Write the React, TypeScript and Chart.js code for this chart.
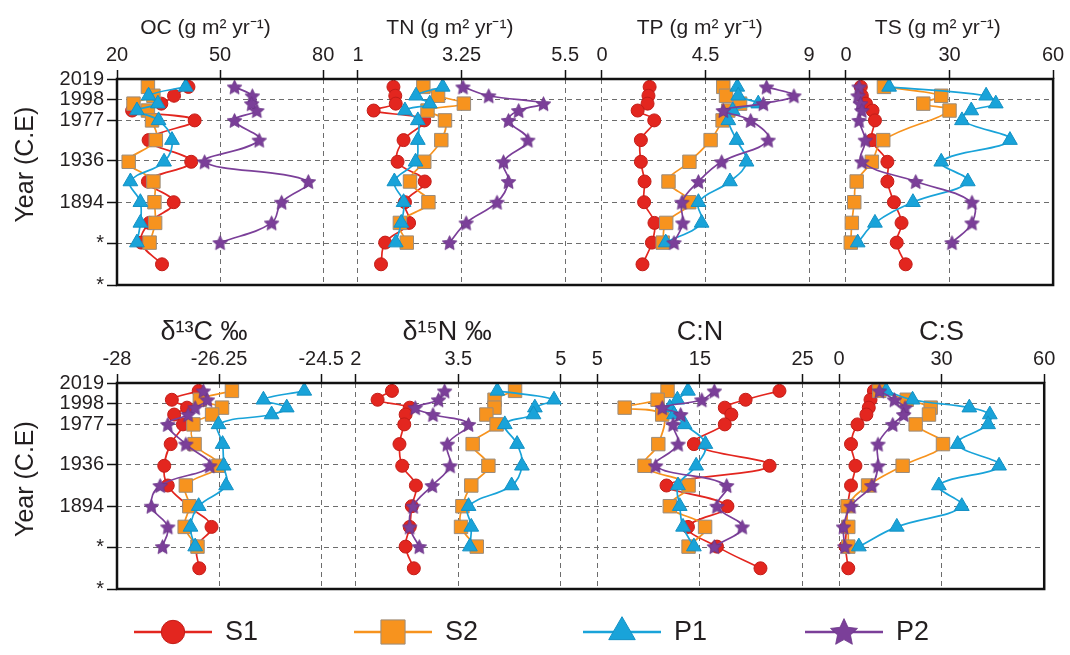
import React, { useEffect, useRef } from 'react';
import { Chart, registerables } from 'chart.js';

Chart.register(...registerables);

const FONT = '"Liberation Sans", Arial, Helvetica, sans-serif';
const TEXT = '#231f20';

// ---- y axis (sample years) ----
const Y_TICKS = [2019, 1998, 1977, 1936, 1894, 1852, 1810];
const Y_TICK_LABELS = ['2019', '1998', '1977', '1936', '1894', '*', '*'];
const S1_YEARS = [2011, 2002, 1994, 1987, 1977, 1957, 1935, 1915, 1894, 1873, 1853, 1831];
const YEARS = [2011, 2002, 1994, 1987, 1977, 1957, 1935, 1915, 1894, 1873, 1853];

// ---- x ticks ----
const OC_TICKS = [20, 50, 80];
const TN_TICKS = [1, 3.25, 5.5];
const TP_TICKS = [0, 4.5, 9];
const TS_TICKS = [0, 30, 60];
const C13_TICKS = [-28, -26.25, -24.5];
const N15_TICKS = [2, 3.5, 5];
const CN_TICKS = [5, 15, 25];
const CS_TICKS = [0, 30, 60];

// ---- OC ----
const OC_S1 = [40.8, 36.6, 32.9, 24.4, 42.6, 29.2, 41.6, 29.0, 36.5, 29.4, 27.1, 33.1];
const OC_S2 = [29.0, 30.6, 24.8, 29.0, 30.2, 31.3, 23.4, 30.6, 30.9, 31.1, 29.5];
const OC_P1 = [40.0, 29.2, 31.9, 25.8, 32.1, 36.0, 33.7, 23.9, 26.8, 26.8, 25.8];
const OC_P2 = [54.2, 59.4, 59.2, 60.7, 54.2, 61.4, 45.5, 75.7, 67.9, 65.0, 50.0];
// ---- TN ----
const TN_S1 = [1.77, 1.81, 1.82, 1.34, 2.44, 1.99, 1.86, 2.45, 2.02, 2.11, 1.59, 1.5];
const TN_S2 = [2.42, 2.74, 3.3, 2.51, 2.89, 2.81, 2.44, 2.13, 2.53, 1.91, 2.06];
const TN_P1 = [2.84, 2.26, 2.56, 2.02, 2.3, 2.3, 2.25, 1.79, 1.99, 1.94, 1.82];
const TN_P2 = [3.28, 3.84, 5.03, 4.49, 4.27, 4.69, 4.16, 4.27, 4.02, 3.35, 2.99];
// ---- TP ----
const TP_S1 = [2.07, 2.02, 1.98, 1.55, 2.27, 1.69, 1.69, 1.85, 1.83, 2.28, 2.17, 1.76];
const TP_S2 = [5.27, 5.39, 6.0, 5.49, 5.24, 4.72, 3.8, 2.89, 3.79, 2.79, 2.64];
const TP_P1 = [5.88, 5.92, 6.79, 5.68, 5.49, 5.85, 6.28, 5.56, 4.19, 4.33, 2.77];
const TP_P2 = [7.15, 8.34, 7.01, 5.27, 6.46, 7.22, 5.2, 4.19, 3.47, 3.51, 3.13];
// ---- TS ----
const TS_S1 = [4.3, 4.6, 5.8, 7.7, 8.4, 7.5, 12.0, 12.0, 13.9, 16.1, 14.7, 17.3];
const TS_S2 = [11.0, 27.6, 22.4, 30.0, null, 10.8, 7.5, 3.1, 2.4, 1.7, 1.4];
const TS_P1 = [12.5, 40.6, 43.4, 36.3, 33.6, 47.5, 27.6, 35.3, 19.4, 8.4, 3.4];
const TS_P2 = [3.8, 3.5, 4.2, 4.6, 3.8, 5.6, 4.6, 20.2, 36.5, 36.5, 30.7];
// ---- d13C ----
const C13_S1 = [-26.6, -27.06, -26.8, -27.02, -26.87, -27.08, -27.19, -27.13, -26.77, -26.38, -26.63, -26.59];
const C13_S2 = [-26.03, -26.58, -26.2, -26.37, -26.69, -26.67, -26.26, -26.82, -26.76, -26.84, -26.62];
const C13_P1 = [-24.79, -25.49, -25.09, -25.35, -26.26, -26.19, -26.17, -26.13, -26.6, -26.74, -26.66];
const C13_P2 = [-26.52, -26.45, -26.66, -26.78, -27.13, -26.82, -26.41, -27.26, -27.41, -27.13, -27.22];
// ---- d15N ----
const N15_S1 = [2.53, 2.32, 2.79, 2.73, 2.71, 2.64, 2.68, 2.88, 2.82, 2.79, 2.73, 2.85];
const N15_S2 = [4.33, 4.03, 4.03, 3.91, 4.06, 3.71, 3.94, 3.69, 3.56, 3.54, 3.77];
const N15_P1 = [4.07, 4.9, 4.62, 4.6, 4.18, 4.36, 4.43, 4.28, 3.65, 3.69, 3.67];
const N15_P2 = [3.3, 3.21, 2.87, 3.13, 3.65, 3.34, 3.38, 3.12, 2.84, 2.79, 2.93];
// ---- C:N ----
const CN_S1 = [22.75, 19.45, 17.42, 18.06, 17.42, 14.41, 21.79, 11.74, 17.68, 13.83, 16.66, 20.9];
const CN_S2 = [11.84, 10.87, 7.66, 11.32, null, 10.94, 9.59, 13.89, 12.06, 15.5, 13.89];
const CN_P1 = [13.83, 12.8, 12.06, 12.48, 13.51, 15.53, 14.63, 12.86, 13.03, 13.35, 14.41];
const CN_P2 = [16.4, 15.18, 11.32, 13.12, 12.38, 12.87, 10.68, 17.6, 16.66, 19.12, 16.4];
// ---- C:S ----
const CS_S1 = [10.2, 9.2, 8.7, 8.0, 5.4, 3.5, 4.8, 3.5, 2.5, 2.2, 1.9, 2.7];
const CS_S2 = [11.8, 19.8, 26.8, 26.3, 22.4, 30.4, 18.6, 8.5, 2.5, 2.7, 2.7];
const CS_P1 = [13.8, 21.5, 38.1, 44.1, 43.6, 34.7, 46.8, 29.2, 35.9, 16.9, 5.8];
const CS_P2 = [11.8, 16.2, 19.3, 18.9, 15.7, 11.4, 11.4, 9.6, 3.5, 1.3, 1.7];

const SERIES_NAMES = ['S1', 'S2', 'P1', 'P2'];

type Panel = {
  id: string;
  title: string;
  ticks: number[];
  s1: (number | null)[];
  s2: (number | null)[];
  p1: (number | null)[];
  p2: (number | null)[];
};

// trailing spaces nudge the centred titles slightly left, as in the figure
const ROW1: Panel[] = [
  { id: 'oc', title: 'OC (g m² yr⁻¹)     ', ticks: OC_TICKS, s1: OC_S1, s2: OC_S2, p1: OC_P1, p2: OC_P2 },
  { id: 'tn', title: 'TN (g m² yr⁻¹)    ', ticks: TN_TICKS, s1: TN_S1, s2: TN_S2, p1: TN_P1, p2: TN_P2 },
  { id: 'tp', title: 'TP (g m² yr⁻¹)  ', ticks: TP_TICKS, s1: TP_S1, s2: TP_S2, p1: TP_P1, p2: TP_P2 },
  { id: 'ts', title: 'TS (g m² yr⁻¹)    ', ticks: TS_TICKS, s1: TS_S1, s2: TS_S2, p1: TS_P1, p2: TS_P2 },
];
const ROW2: Panel[] = [
  { id: 'c13', title: 'δ¹³C ‰    ', ticks: C13_TICKS, s1: C13_S1, s2: C13_S2, p1: C13_P1, p2: C13_P2 },
  { id: 'n15', title: 'δ¹⁵N ‰   ', ticks: N15_TICKS, s1: N15_S1, s2: N15_S2, p1: N15_P1, p2: N15_P2 },
  { id: 'cn', title: 'C:N', ticks: CN_TICKS, s1: CN_S1, s2: CN_S2, p1: CN_P1, p2: CN_P2 },
  { id: 'cs', title: 'C:S', ticks: CS_TICKS, s1: CS_S1, s2: CS_S2, p1: CS_P1, p2: CS_P2 },
];

// layout constants (panel widths and gaps in the shared frame)
const PANEL_W = [207, 208, 208, 208];
const GAP_W = [35, 37, 37];
const LEGEND_X = [173, 393, 622, 844];

const STYLES: Record<string, any> = {
  S1: { line: '#e3261f', fill: '#e3261f', border: '#c21d18', shape: 'circle', radius: 6.5 },
  S2: { line: '#f7931e', fill: '#f7931e', border: '#9b8c7c', shape: 'rect', radius: 9.5 },
  P1: { line: '#19a3d9', fill: '#19a3d9', border: '#1391c4', shape: 'triangle', radius: 8.5 },
  P2: { line: '#7b3f99', fill: '#7b3f99', border: '#6a3386', shape: 'star', radius: 8.5 },
};

function starPath(ctx: CanvasRenderingContext2D, cx: number, cy: number, R: number) {
  const r = R * 0.48;
  ctx.beginPath();
  for (let i = 0; i < 10; i++) {
    const a = -Math.PI / 2 + (i * Math.PI) / 5;
    const rad = i % 2 ? r : R;
    const px = cx + rad * Math.cos(a);
    const py = cy + rad * Math.sin(a);
    if (i === 0) ctx.moveTo(px, py);
    else ctx.lineTo(px, py);
  }
  ctx.closePath();
}

function makeStar(size: number) {
  const c = document.createElement('canvas');
  c.width = size;
  c.height = size;
  const ctx = c.getContext('2d')!;
  starPath(ctx, size / 2, size / 2 + 0.8, size / 2 - 0.8);
  ctx.fillStyle = STYLES.P2.fill;
  ctx.fill();
  ctx.strokeStyle = STYLES.P2.border;
  ctx.lineWidth = 0.8;
  ctx.stroke();
  return c;
}

function drawMarker(ctx: CanvasRenderingContext2D, name: string, x: number, y: number, scale: number, star: HTMLCanvasElement) {
  const st = STYLES[name];
  ctx.save();
  ctx.fillStyle = st.fill;
  ctx.strokeStyle = st.border;
  ctx.lineWidth = 1;
  const r = st.radius * scale;
  if (st.shape === 'circle') {
    ctx.beginPath();
    ctx.arc(x, y, r, 0, Math.PI * 2);
    ctx.fill();
    ctx.stroke();
  } else if (st.shape === 'rect') {
    const s = r * Math.SQRT1_2;
    ctx.beginPath();
    ctx.rect(x - s, y - s, 2 * s, 2 * s);
    ctx.fill();
    ctx.stroke();
  } else if (st.shape === 'triangle') {
    ctx.beginPath();
    ctx.moveTo(x, y - r);
    ctx.lineTo(x + r * Math.sin((2 * Math.PI) / 3), y - r * Math.cos((2 * Math.PI) / 3));
    ctx.lineTo(x + r * Math.sin((4 * Math.PI) / 3), y - r * Math.cos((4 * Math.PI) / 3));
    ctx.closePath();
    ctx.fill();
    ctx.stroke();
  } else {
    ctx.drawImage(star, x - star.width / 2, y - star.height / 2);
  }
  ctx.restore();
}

const framePlugin = {
  id: 'frame',
  afterDraw(chart: any) {
    const { ctx, chartArea: a } = chart;
    ctx.save();
    ctx.strokeStyle = '#111';
    ctx.lineWidth = 2.5;
    ctx.strokeRect(a.left, a.top, a.right - a.left, a.bottom - a.top);
    ctx.restore();
  },
};

function makeLegendPlugin(bigStar: HTMLCanvasElement) {
  return {
    id: 'seriesLegend',
    afterDraw(chart: any) {
      const ctx = chart.ctx as CanvasRenderingContext2D;
      const y = chart.chartArea.bottom + 43;
      SERIES_NAMES.forEach((name, i) => {
        const cx = LEGEND_X[i];
        ctx.save();
        ctx.strokeStyle = STYLES[name].line;
        ctx.lineWidth = 2.5;
        ctx.beginPath();
        ctx.moveTo(cx - 39, y);
        ctx.lineTo(cx + 39, y);
        ctx.stroke();
        ctx.restore();
        drawMarker(ctx, name, cx, y, 1.8, bigStar);
        ctx.save();
        ctx.fillStyle = TEXT;
        ctx.font = `27px ${FONT}`;
        ctx.textBaseline = 'middle';
        ctx.textAlign = 'left';
        ctx.fillText(name, cx + 52, y + 1);
        ctx.restore();
      });
    },
  };
}

function buildConfig(panels: Panel[], yTitle: string, titleSize: number, bottomPad: number, extraPlugins: any[], star: HTMLCanvasElement) {
  const scales: any = {};
  const order: { id: string; w: number; panel?: Panel }[] = [];
  panels.forEach((p, i) => {
    order.push({ id: p.id, w: PANEL_W[i], panel: p });
    if (i < GAP_W.length) order.push({ id: `gap${i}`, w: GAP_W[i] });
  });
  const titlePad = Math.max(0, 28.5 - titleSize * 0.6);
  order.forEach((o, k) => {
    const base: any = {
      type: 'linear',
      position: 'top',
      stack: 'row',
      stackWeight: o.w,
      weight: 100 - k,
    };
    if (!o.panel) {
      scales[o.id] = { ...base, display: false, min: 0, max: 1 };
      return;
    }
    const p = o.panel;
    scales[o.id] = {
      ...base,
      min: p.ticks[0],
      max: p.ticks[p.ticks.length - 1],
      afterBuildTicks: (sc: any) => {
        sc.ticks = p.ticks.map((v) => ({ value: v }));
      },
      afterFit: (sc: any) => {
        sc.height = 79;
      },
      ticks: {
        callback: (v: any) => String(v),
        font: { family: FONT, size: 20 },
        color: TEXT,
        padding: 3,
        autoSkip: false,
        maxRotation: 0,
        minRotation: 0,
      },
      grid: {
        color: '#6d6d6d',
        lineWidth: 1,
        drawTicks: true,
        tickLength: 9,
        tickColor: '#111',
        tickWidth: 1.5,
        tickBorderDash: [],
      },
      border: { display: false, dash: [5, 4] },
      title: {
        display: true,
        text: p.title,
        font: { family: FONT, size: titleSize },
        color: TEXT,
        padding: { top: titlePad, bottom: 0 },
      },
    };
  });
  scales.y = {
    type: 'linear',
    position: 'left',
    min: 1810,
    max: 2019,
    afterBuildTicks: (sc: any) => {
      sc.ticks = Y_TICKS.map((v) => ({ value: v }));
    },
    afterFit: (sc: any) => {
      sc.width = 117;
    },
    ticks: {
      callback: (v: any) => {
        const i = Y_TICKS.indexOf(Number(v));
        return i >= 0 ? Y_TICK_LABELS[i] : '';
      },
      font: { family: FONT, size: 20 },
      color: TEXT,
      padding: 3,
      autoSkip: false,
    },
    grid: {
      color: '#6d6d6d',
      lineWidth: 1,
      drawTicks: true,
      tickLength: 10,
      tickColor: '#111',
      tickWidth: 1.5,
      tickBorderDash: [],
    },
    border: { display: false, dash: [5, 4] },
    title: {
      display: true,
      text: yTitle,
      font: { family: FONT, size: 25 },
      color: TEXT,
      padding: { top: 11, bottom: 0 },
    },
  };

  const datasets: any[] = [];
  // P2 first so it is drawn on top, S1 last (drawn first)
  ['P2', 'P1', 'S2', 'S1'].forEach((name) => {
    panels.forEach((p) => {
      const vals = name === 'S1' ? p.s1 : name === 'S2' ? p.s2 : name === 'P1' ? p.p1 : p.p2;
      const years = name === 'S1' ? S1_YEARS : YEARS;
      const data = years
        .map((yr, i) => ({ x: vals[i], y: yr }))
        .filter((d) => d.x !== null && d.x !== undefined);
      const st = STYLES[name];
      datasets.push({
        label: name,
        data,
        xAxisID: p.id,
        yAxisID: 'y',
        borderColor: st.line,
        backgroundColor: st.fill,
        borderWidth: 1.7,
        tension: 0.4,
        fill: false,
        pointStyle: st.shape === 'star' ? star : st.shape,
        pointRadius: st.radius,
        pointBackgroundColor: st.fill,
        pointBorderColor: st.border,
        pointBorderWidth: 1,
        clip: false,
      });
    });
  });

  return {
    type: 'line' as const,
    data: { datasets },
    options: {
      animation: false,
      responsive: false,
      maintainAspectRatio: false,
      events: [],
      layout: { padding: { left: 0, right: 12, top: 0, bottom: bottomPad } },
      plugins: { legend: { display: false }, tooltip: { enabled: false }, title: { display: false } },
      scales,
    },
    plugins: [framePlugin, ...extraPlugins],
  };
}

function RowChart(props: { panels: Panel[]; yTitle: string; titleSize: number; top: number; height: number; bottomPad: number; legend?: boolean }) {
  const ref = useRef<HTMLCanvasElement>(null);
  useEffect(() => {
    const star = makeStar(17);
    const bigStar = makeStar(30);
    const extra = props.legend ? [makeLegendPlugin(bigStar)] : [];
    const chart = new Chart(
      ref.current as HTMLCanvasElement,
      buildConfig(props.panels, props.yTitle, props.titleSize, props.bottomPad, extra, star) as any
    );
    return () => chart.destroy();
  }, []);
  return (
    <canvas
      ref={ref}
      width={1070}
      height={props.height}
      style={{ position: 'absolute', left: 0, top: props.top, width: 1070, height: props.height }}
    />
  );
}

export default function App() {
  return (
    <div style={{ position: 'absolute', left: 0, top: 0, width: 1070, height: 655, background: '#ffffff', overflow: 'hidden' }}>
      <RowChart panels={ROW1} yTitle={'     Year (C.E)'} titleSize={21} top={0} height={300} bottomPad={15} />
      <RowChart panels={ROW2} yTitle={'  Year (C.E)'} titleSize={27} top={304} height={351} bottomPad={66} legend />
    </div>
  );
}
